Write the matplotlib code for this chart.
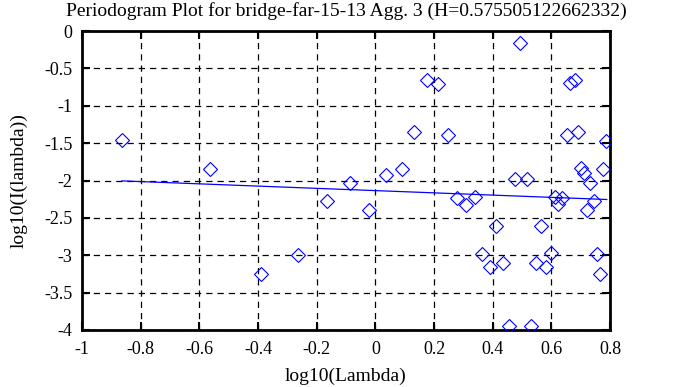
import matplotlib
matplotlib.use("Agg")
import matplotlib.pyplot as plt

title = "Periodogram Plot for bridge-far-15-13 Agg. 3 (H=0.575505122662332)"
xlabel = "log10(Lambda)"
ylabel = "log10(I(lambda))"

log_lambda = [-0.864, -0.564, -0.390, -0.265, -0.166, -0.086, -0.020, 0.037, 0.090,
              0.132, 0.177, 0.213, 0.247, 0.277, 0.309, 0.340, 0.365, 0.391, 0.411,
              0.434, 0.457, 0.476, 0.494, 0.516, 0.531, 0.548, 0.565, 0.582, 0.598,
              0.613, 0.624, 0.637, 0.652, 0.664, 0.680, 0.690, 0.700, 0.712, 0.723,
              0.733, 0.745, 0.757, 0.766, 0.777, 0.786]
log_I = [-1.46, -1.84, -3.245, -2.99, -2.27, -2.04, -2.40, -1.92, -1.85,
         -1.35, -0.66, -0.705, -1.39, -2.24, -2.33, -2.22, -2.98, -3.16, -2.61,
         -3.10, -3.95, -1.98, -0.156, -1.98, -3.95, -3.10, -2.61, -3.16, -2.97,
         -2.22, -2.32, -2.23, -1.39, -0.70, -0.65, -1.35, -1.83, -1.90, -2.40,
         -2.04, -2.27, -2.98, -3.245, -1.84, -1.47]

fit_x = [-0.864, 0.789]
fit_y = [-2.005, -2.254]

xticks = [-1, -0.8, -0.6, -0.4, -0.2, 0, 0.2, 0.4, 0.6, 0.8]
xticklabels = ["-1", "-0.8", "-0.6", "-0.4", "-0.2", "0", "0.2", "0.4", "0.6", "0.8"]
yticks = [0, -0.5, -1, -1.5, -2, -2.5, -3, -3.5, -4]
yticklabels = ["0", "-0.5", "-1", "-1.5", "-2", "-2.5", "-3", "-3.5", "-4"]

plt.rcParams['font.family'] = ['Liberation Serif', 'DejaVu Serif']

fig = plt.figure(figsize=(6.83, 3.87), dpi=100)
ax = fig.add_axes([82 / 683, 1 - 330 / 387, (610 - 82) / 683, (330 - 31) / 387])

ax.plot(log_lambda, log_I, linestyle='none', marker='D', markersize=7,
        markerfacecolor='none', markeredgecolor='#0000ff', markeredgewidth=0.8, zorder=3)
ax.plot(fit_x, fit_y, color='#0000ff', linewidth=0.9, zorder=3)

ax.set_xlim(-1, 0.8)
ax.set_ylim(-4, 0)
ax.set_xticks(xticks)
ax.set_xticklabels(xticklabels)
ax.set_yticks(yticks)
ax.set_yticklabels(yticklabels)
ax.grid(True, color='black', linestyle=(0, (5, 4)), linewidth=0.9)
ax.tick_params(direction='in', length=6, width=1.5, top=True, right=True,
               labelsize=13, colors='black')
ax.tick_params(axis='x', pad=8)
ax.tick_params(axis='y', pad=7)
for s in ax.spines.values():
    s.set_linewidth(2)

ax.set_title(title, fontsize=14, pad=11)
ax.set_xlabel(xlabel, fontsize=14, labelpad=7)
ax.set_ylabel(ylabel, fontsize=14, labelpad=12)

fig.savefig("out.png", dpi=100)
